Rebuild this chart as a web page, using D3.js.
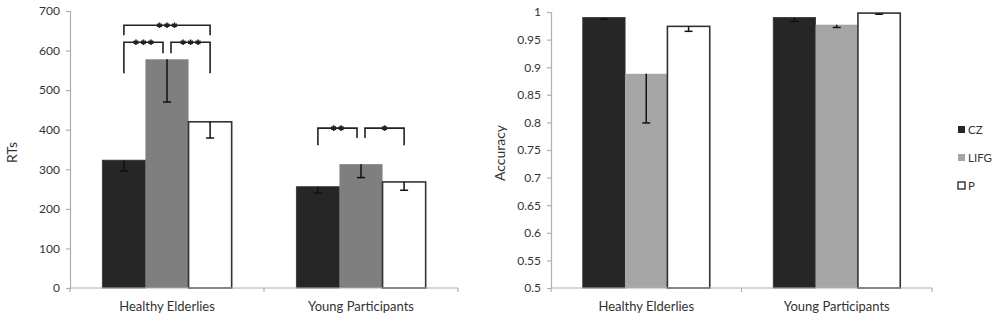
<!DOCTYPE html>
<html>
<head>
<meta charset="utf-8">
<script src="https://cdn.jsdelivr.net/npm/d3@7"></script>
<style>
  body { margin: 0; background: #fff; }
  svg { display: block; font-family: Lato, "Open Sans", sans-serif; }
</style>
</head>
<body>
<svg id="chart" width="1000" height="322"></svg>
<script>
// groups and series
const groups = ['Healthy Elderlies', 'Young Participants'];
const series = ['CZ', 'LIFG', 'P'];

// reaction times (left panel)
const rtCZ = [323, 256];
const rtLIFG = [578, 313];
const rtP = [420, 268];
const rtErrCZ = [27, 16];
const rtErrLIFG = [108, 34];
const rtErrP = [41, 21];
const rtTicks = [0, 100, 200, 300, 400, 500, 600, 700];

// accuracy (right panel)
const accCZ = [0.99, 0.99];
const accLIFG = [0.888, 0.977];
const accP = [0.974, 0.998];
const accErrCZ = [0.003, 0.007];
const accErrLIFG = [0.089, 0.005];
const accErrP = [0.009, 0.002];
const accTicks = [0.5, 0.55, 0.6, 0.65, 0.7, 0.75, 0.8, 0.85, 0.9, 0.95, 1];

// significance brackets on the RT panel: group, from series, to series, bar height, leg ends, stars
const sigGroup = [0, 0, 0, 1, 1];
const sigFrom = ['CZ', 'CZ', 'LIFG', 'CZ', 'LIFG'];
const sigTo = ['P', 'LIFG', 'P', 'LIFG', 'P'];
const sigLevel = [664, 621, 621, 404, 404];
const sigLegFrom = [639, 543, 593, 361, 379];
const sigLegTo = [639, 593, 543, 379, 361];
const sigStars = [3, 3, 3, 2, 1];

const leftColors = { CZ: '#262626', LIFG: '#7f7f7f', P: '#ffffff' };
const rightColors = { CZ: '#262626', LIFG: '#a6a6a6', P: '#ffffff' };

const svg = d3.select('#chart');

function drawPanel(opts) {
  const { x0, x1, yTop, yBottom, domain, ticks, fmt, values, errors, colors, label, labelX, labelSize } = opts;

  const g = svg.append('g');

  const x = d3.scaleBand().domain(groups).range([x0, x1]).paddingInner(0).paddingOuter(0);
  const inner = d3.scaleBand().domain(series).range([0, x.bandwidth()]).paddingOuter(0.75).paddingInner(0);
  const y = d3.scaleLinear().domain(domain).range([yBottom, yTop]);

  // bars
  series.forEach(s => {
    g.selectAll('.bar-' + s)
      .data(groups)
      .enter().append('rect')
      .attr('x', d => x(d) + inner(s))
      .attr('y', (d, i) => y(values[s][i]))
      .attr('width', inner.bandwidth())
      .attr('height', (d, i) => y(domain[0]) - y(values[s][i]))
      .attr('fill', colors[s])
      .attr('stroke', s === 'LIFG' ? 'none' : '#333')
      .attr('stroke-width', s === 'P' ? 1.6 : 0.8);
  });

  // error bars (minus side only)
  series.forEach(s => {
    groups.forEach((grp, i) => {
      const cx = x(grp) + inner(s) + inner.bandwidth() / 2;
      const top = y(values[s][i]);
      const bot = y(values[s][i] - errors[s][i]);
      g.append('line').attr('x1', cx).attr('x2', cx).attr('y1', top).attr('y2', bot)
        .attr('stroke', '#111').attr('stroke-width', 1.5);
      g.append('line').attr('x1', cx - 4).attr('x2', cx + 4).attr('y1', bot).attr('y2', bot)
        .attr('stroke', '#111').attr('stroke-width', 1.5);
    });
  });

  // y axis
  const yAxis = g.append('g')
    .attr('transform', `translate(${x0},0)`)
    .call(d3.axisLeft(y).tickValues(ticks).tickFormat(fmt).tickSize(4).tickPadding(6));
  yAxis.select('.domain').attr('stroke', '#b0b0b0').attr('stroke-width', 1.2);
  yAxis.selectAll('.tick line').attr('stroke', '#b0b0b0').attr('stroke-width', 1.2);
  yAxis.selectAll('.tick text').attr('fill', '#333').style('font-size', '12px').style('font-family', 'Lato, sans-serif');

  // x axis line with ticks at band edges
  g.append('line').attr('x1', x0).attr('x2', x1).attr('y1', yBottom).attr('y2', yBottom)
    .attr('stroke', '#b0b0b0').attr('stroke-width', 1.2);
  const edges = [x0, ...groups.map(d => x(d) + x.bandwidth())];
  g.selectAll('.xtick').data(edges).enter().append('line')
    .attr('x1', d => d).attr('x2', d => d)
    .attr('y1', yBottom).attr('y2', yBottom + 4)
    .attr('stroke', '#b0b0b0').attr('stroke-width', 1.2);
  g.selectAll('.xlabel').data(groups).enter().append('text')
    .attr('x', d => x(d) + x.bandwidth() / 2)
    .attr('y', yBottom + 23)
    .attr('text-anchor', 'middle')
    .attr('fill', '#333')
    .style('font-size', '13px')
    .text(d => d);

  // y label
  g.append('text')
    .attr('transform', `translate(${labelX},${(yTop + yBottom) / 2 + 3}) rotate(-90)`)
    .attr('text-anchor', 'middle')
    .attr('fill', '#333')
    .style('font-size', labelSize)
    .text(label);

  return { x, inner, y, g };
}

const left = drawPanel({
  x0: 70, x1: 458, yTop: 11, yBottom: 288,
  domain: [0, 700], ticks: rtTicks, fmt: d3.format('d'),
  values: { CZ: rtCZ, LIFG: rtLIFG, P: rtP },
  errors: { CZ: rtErrCZ, LIFG: rtErrLIFG, P: rtErrP },
  colors: leftColors, label: 'RTs', labelX: 17, labelSize: '14px'
});

const right = drawPanel({
  x0: 551, x1: 932, yTop: 12, yBottom: 288,
  domain: [0.5, 1], ticks: accTicks, fmt: d => String(+d.toFixed(2)),
  values: { CZ: accCZ, LIFG: accLIFG, P: accP },
  errors: { CZ: accErrCZ, LIFG: accErrLIFG, P: accErrP },
  colors: rightColors, label: 'Accuracy', labelX: 505, labelSize: '14px'
});

// significance brackets
(function () {
  const { x, inner, y, g } = left;
  const center = (gi, s) => x(groups[gi]) + inner(s) + inner.bandwidth() / 2;
  const star = d3.symbol().type(d3.symbolAsterisk).size(22);
  sigStars.forEach((n, k) => {
    let xa = center(sigGroup[k], sigFrom[k]);
    let xb = center(sigGroup[k], sigTo[k]);
    // leave a small gap where two brackets meet over the middle bar
    if (sigFrom[k] === 'LIFG') xa += 4;
    if (sigTo[k] === 'LIFG') xb -= 4;
    const yl = y(sigLevel[k]);
    g.append('path')
      .attr('d', `M${xa},${y(sigLegFrom[k])}V${yl}H${xb}V${y(sigLegTo[k])}`)
      .attr('fill', 'none')
      .attr('stroke', '#222')
      .attr('stroke-width', 1.6);
    const mid = (xa + xb) / 2;
    d3.range(n).forEach(j => {
      g.append('path')
        .attr('d', star())
        .attr('transform', `translate(${mid + (j - (n - 1) / 2) * 7.5},${yl})`)
        .attr('fill', 'none')
        .attr('stroke', '#222')
        .attr('stroke-width', 1.6);
    });
  });
})();

// legend
const legendY = [130, 158, 186];
const legend = svg.append('g');
series.forEach((s, i) => {
  legend.append('rect')
    .attr('x', 958).attr('y', legendY[i] - 4)
    .attr('width', 7).attr('height', 7)
    .attr('fill', rightColors[s])
    .attr('stroke', s === 'P' ? '#222' : 'none')
    .attr('stroke-width', 1.3);
  legend.append('text')
    .attr('x', 968).attr('y', legendY[i] + 4)
    .attr('fill', '#333')
    .style('font-size', '11.5px')
    .text(s);
});
</script>
</body>
</html>
